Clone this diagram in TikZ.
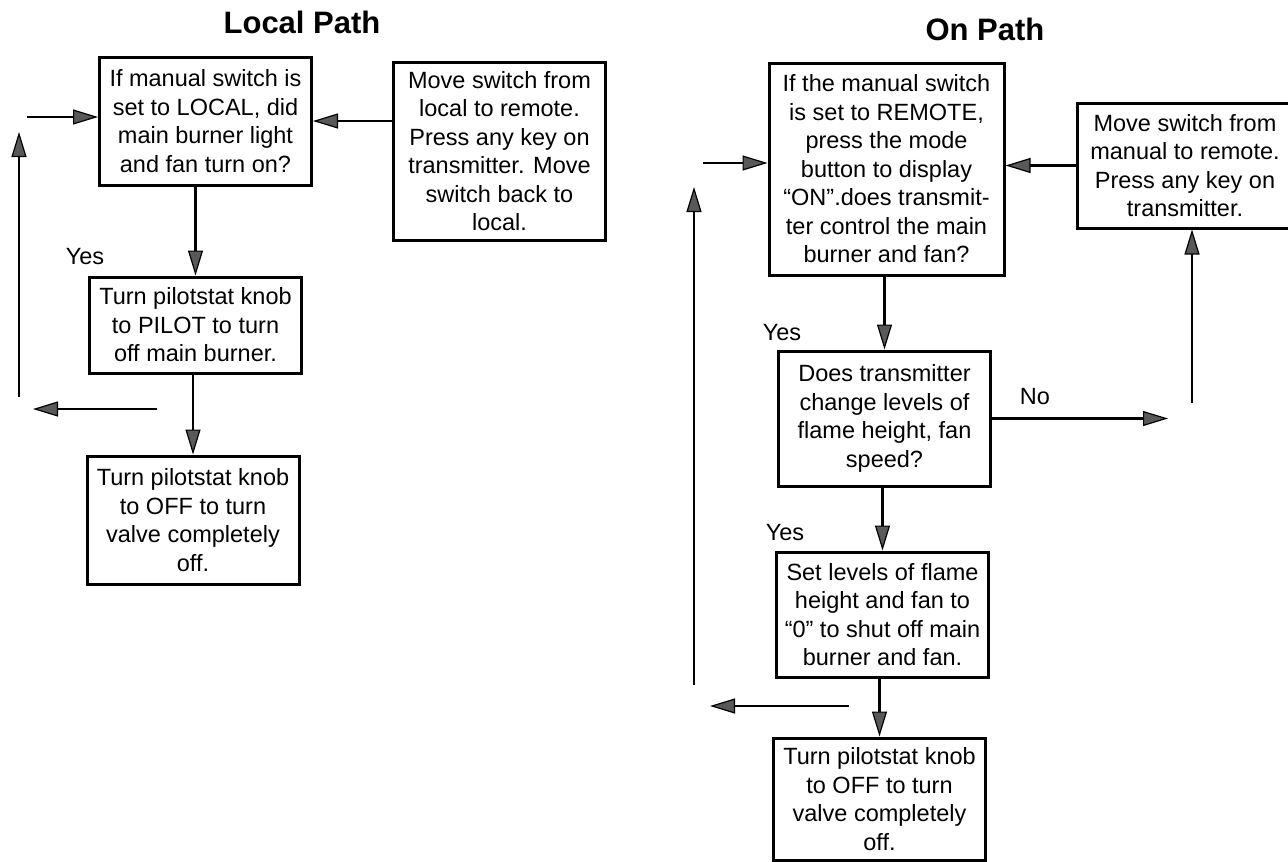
\documentclass[tikz,border=0pt]{standalone}
\usepackage{fontspec}
\setmainfont{Liberation Sans}
\usetikzlibrary{arrows.meta}

\begin{document}
\begin{tikzpicture}[x=1pt,y=-1pt,
    box/.style={draw,line width=3pt,align=center,inner sep=2pt,
                minimum width=212pt,font=\fontsize{23.5}{28.5}\selectfont},
    lbl/.style={inner sep=0pt,font=\fontsize{23.5}{28.5}\selectfont},
    head/.style={anchor=base,inner sep=0pt,font=\fontsize{31}{36}\selectfont\bfseries},
    >={Triangle[length=25pt,width=15pt,line width=1.2pt,fill=black!65]}, line width=2.5pt]
  \useasboundingbox (0,0) rectangle (1288,862);
  % titles
  \node[head] (tl) at (302,34) {Local Path};
  \node[head] (tr) at (985,40) {On Path};
  % left nodes
  \node[box,minimum height=128pt] (L1) at (205.5,121) {If manual switch is\\set to LOCAL, did\\main burner light\\and fan turn on?};
  \node[box,minimum height=178pt] (LM) at (499.5,151) {Move switch from\\local to remote.\\Press any key on\\transmitter. Move\\switch back to\\local.};
  \node[box,minimum height=96pt] (L2) at (195.5,325) {Turn pilotstat knob\\to PILOT to turn\\off main burner.};
  \node[box,minimum height=128pt] (L3) at (193,520) {Turn pilotstat knob\\to OFF to turn\\valve completely\\off.};
  \node[lbl] (y1) at (85,257) {Yes};
  \coordinate (inL) at (27,117);
  \coordinate (upLb) at (19,397);
  \coordinate (upLt) at (19,132);
  \coordinate (bkLs) at (157,409);
  \coordinate (bkLe) at (33,409);
  % left edges
  \draw[->] (inL) -- (inL -| L1.west);
  \draw[->] (LM.west |- L1.east) -- (L1.east);
  \draw[->] (L1.south -| L2.north) -- (L2.north);
  \draw[->] (L2.south -| L3.north) -- (L3.north);
  \draw[->] (upLb) -- (upLt);
  \draw[->] (bkLs) -- (bkLe);
  % right nodes
  \node[box,minimum width=235pt,minimum height=212pt] (R1) at (886.5,169) {If the manual switch\\is set to REMOTE,\\press the mode\\button to display\\“ON”.does transmit-\\ter control the main\\burner and fan?};
  \node[box,minimum width=216pt,minimum height=125pt] (RM) at (1185,165.5) {Move switch from\\manual to remote.\\Press any key on\\transmitter.};
  \node[box,minimum height=135pt] (R2) at (884.5,418.5) {Does transmitter\\change levels of\\flame height, fan\\speed?};
  \node[box,minimum height=125pt] (R3) at (882.5,614.5) {Set levels of flame\\height and fan to\\“0” to shut off main\\burner and fan.};
  \node[box,minimum height=122pt] (R4) at (879.5,799) {Turn pilotstat knob\\to OFF to turn\\valve completely\\off.};
  \node[lbl] (y2) at (782,333) {Yes};
  \node[lbl] (y3) at (785,533) {Yes};
  \node[lbl] (no) at (1035,397) {No};
  \coordinate (inR) at (703,163);
  \coordinate (noE) at (1168,418.5);
  \coordinate (upM) at (1192,403);
  \coordinate (upRb) at (694,685);
  \coordinate (upRt) at (694,187);
  \coordinate (bkRs) at (849,706);
  \coordinate (bkRe) at (710,706);
  % right edges
  \draw[->] (inR) -- (inR -| R1.west);
  \draw[->] (RM.west) -- (RM.west -| R1.east);
  \draw[->] (R1.south -| R2.north) -- (R2.north);
  \draw[->] (R2.east) -- (noE);
  \draw[->] (upM) -- (upM |- RM.south);
  \draw[->] (R2.south -| R3.north) -- (R3.north);
  \draw[->] (R3.south -| R4.north) -- (R4.north);
  \draw[->] (upRb) -- (upRt);
  \draw[->] (bkRs) -- (bkRe);
\end{tikzpicture}
\end{document}
